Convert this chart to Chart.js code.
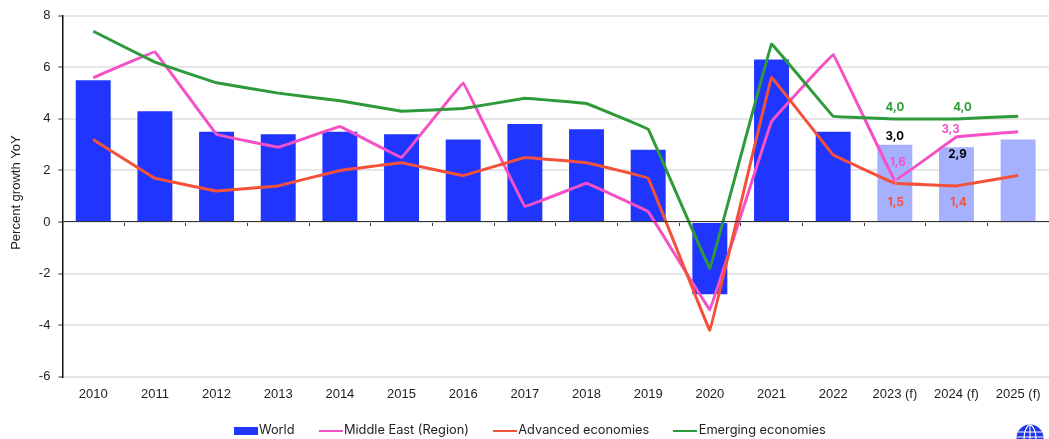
<!DOCTYPE html>
<html><head><meta charset="utf-8">
<script src="https://cdn.jsdelivr.net/npm/chart.js@4"></script>
<style>html,body{margin:0;padding:0;background:#fff;overflow:hidden}#w{position:relative;width:1049px;height:439px}canvas{display:block}
#logo{position:absolute;left:1016px;top:424px}</style></head><body>
<div id="w"><canvas id="c" width="1049" height="439"></canvas>
<svg id="logo" width="28" height="15" viewBox="0 0 28 15"><defs><clipPath id="g"><circle cx="14" cy="14" r="13.5"/></clipPath></defs>
<g clip-path="url(#g)"><rect width="28" height="15" fill="#1f35e8"/><g stroke="#fff" stroke-width="1.1" fill="none"><path d="M14 0V15M8 15C8 8 10 3 14 0M20 15C20 8 18 3 14 0M2 8H26M0 13H28"/></g></g></svg></div>
<script>
const categories=['2010','2011','2012','2013','2014','2015','2016','2017','2018','2019','2020','2021','2022','2023 (f)','2024 (f)','2025 (f)'];
const world=[5.5,4.3,3.5,3.4,3.5,3.4,3.2,3.8,3.6,2.8,-2.8,6.3,3.5,3.0,2.9,3.2];
const middleEast=[5.6,6.6,3.4,2.9,3.7,2.5,5.4,0.6,1.5,0.4,-3.4,3.9,6.5,1.6,3.3,3.5];
const advanced=[3.2,1.7,1.2,1.4,2.0,2.3,1.8,2.5,2.3,1.7,-4.2,5.6,2.6,1.5,1.4,1.8];
const emerging=[7.4,6.2,5.4,5.0,4.7,4.3,4.4,4.8,4.6,3.6,-1.8,6.9,4.1,4.0,4.0,4.1];
const yTicks=[8,6,4,2,0,-2,-4,-6];
const seriesNames=['World','Middle East (Region)','Advanced economies','Emerging economies'];
const BLUE='#2036ff',LIGHT='#a6b1fd',PINK='#f550c4',RED='#f4503a',GREEN='#2f9a3a';
const FONT='Inter, "Liberation Sans", sans-serif';
const ARIAL='"Liberation Sans", Arial, sans-serif';
const forecastStart=13;
function swatch(color,h){const c=document.createElement('canvas');c.width=24;c.height=h;const x=c.getContext('2d');x.fillStyle=color;x.fillRect(0,0,24,h);return c;}
const swatches=[swatch(BLUE,8),swatch(PINK,2.5),swatch(RED,2.5),swatch(GREEN,2.5)];
// dataset index, category index, colour, label offsets in px
const labelled=[
 [0,13,'#000',0,-8.5],[0,14,'#000',1,7.5],
 [1,13,PINK,3,-18],[1,14,PINK,-6,-7.5],
 [2,13,RED,1,19],[2,14,RED,2,17],
 [3,13,GREEN,0,-11.5],[3,14,GREEN,6,-11.5]];
const valueLabels={id:'valueLabels',afterDatasetsDraw(ch){
 const c=ch.ctx;c.save();
 const lead=ch.getDatasetMeta(1).data[13];
 c.strokeStyle='#bbb';c.lineWidth=1;c.beginPath();c.moveTo(lead.x+1,lead.y-8);c.lineTo(lead.x+1,lead.y+10);c.stroke();
 c.font='700 11.5px '+FONT;c.textAlign='center';c.textBaseline='middle';
 labelled.forEach(([d,i,col,ox,oy])=>{const el=ch.getDatasetMeta(d).data[i];const v=ch.data.datasets[d].data[i];
  c.fillStyle=col;c.fillText(v.toFixed(1).replace('.',','),el.x+ox,el.y+oy);});
 c.restore();}};
const nudgeLegend={id:'nudgeLegend',afterLayout(ch){const l=ch.legend;l.left+=7;l.right+=7;l.top-=9;l.bottom-=9;}};
const line=(label,data,color,order)=>({type:'line',label,data,borderColor:color,backgroundColor:color,borderWidth:3,pointRadius:0,tension:0.02,order,xAxisID:'x',yAxisID:'y',borderJoinStyle:'round'});
new Chart(document.getElementById('c'),{
 type:'bar',
 data:{labels:categories,datasets:[
  {type:'bar',label:seriesNames[0],data:world,backgroundColor:world.map((v,i)=>i>=forecastStart?LIGHT:BLUE),barPercentage:0.567,categoryPercentage:1,order:4,xAxisID:'x',yAxisID:'y'},
  line(seriesNames[1],middleEast,PINK,3),
  line(seriesNames[2],advanced,RED,2),
  line(seriesNames[3],emerging,GREEN,1)]},
 options:{responsive:false,animation:false,
  layout:{padding:{top:13.5,left:0,right:-1.4,bottom:-17}},
  plugins:{tooltip:{enabled:false},
   legend:{position:'bottom',labels:{usePointStyle:true,pointStyleWidth:14,boxHeight:8,padding:29,color:'#222',font:{family:FONT,size:12.8},
    generateLabels:ch=>ch.data.datasets.map((d,i)=>({text:d.label,pointStyle:swatches[i],fontColor:'#222',lineWidth:0,strokeStyle:'transparent',fillStyle:'transparent',datasetIndex:i,hidden:false}))}}},
  scales:{
   x:{type:'category',position:{y:0},offset:true,grid:{drawOnChartArea:false,drawTicks:true,tickLength:4,tickColor:'#333',tickWidth:1},border:{display:true,color:'#333',width:1,z:1},ticks:{display:false}},
   x2:{type:'category',position:'bottom',labels:categories,offset:true,grid:{display:false},border:{display:false},ticks:{color:'#222',font:{family:ARIAL,size:13},maxRotation:0,autoSkip:false,padding:2}},
   y:{min:-6,max:8,afterBuildTicks(a){a.ticks=yTicks.map(v=>({value:v}));},grid:{color:'#e6e6e6',lineWidth:2,tickColor:'#333',tickLength:4,tickWidth:1},border:{display:true,color:'#111',width:1.5},
    ticks:{color:'#222',font:{family:ARIAL,size:13},padding:8,callback:v=>String(v)},
    title:{display:true,text:'\u00a0\u00a0Percent growth YoY',color:'#222',font:{family:ARIAL,size:13},padding:{top:9,bottom:0}},
    afterFit(a){a.width=62.4;}}
  }},
 plugins:[valueLabels,nudgeLegend]
});
</script></body></html>
